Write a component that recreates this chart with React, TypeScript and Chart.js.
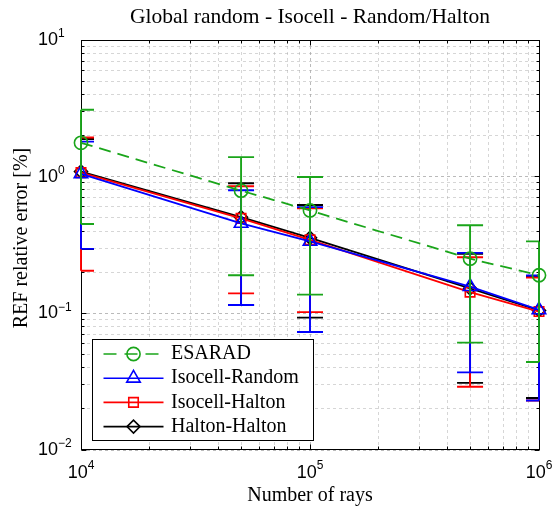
import React, { useEffect, useRef } from 'react';
import { Chart, registerables } from 'chart.js';

Chart.register(...registerables);

// ---------- data ----------
const TITLE = 'Global random - Isocell - Random/Halton';
const X_TITLE = 'Number of rays';
const Y_TITLE = 'REF relative error [%]';
const SERIES_NAMES = ['ESARAD', 'Isocell-Random', 'Isocell-Halton', 'Halton-Halton'];

const RAYS = [1e4, 5e4, 1e5, 5e5, 1e6];

const ESARAD = [1.77, 0.79, 0.566, 0.251, 0.19];
const ESARAD_ERR = [1.32, 0.6, 0.429, 0.19, 0.146];

const ISOCELL_RANDOM = [1.05, 0.455, 0.336, 0.157, 0.106];
const ISOCELL_RANDOM_ERR = [0.754, 0.34, 0.263, 0.12, 0.083];

const ISOCELL_HALTON = [1.07, 0.495, 0.345, 0.143, 0.103];
const ISOCELL_HALTON_ERR = [0.865, 0.355, 0.243, 0.114, 0.08];

const HALTON_HALTON = [1.09, 0.505, 0.357, 0.152, 0.105];
const HALTON_HALTON_ERR = [0.795, 0.39, 0.264, 0.121, 0.081];

const X_EXPONENTS = [4, 5, 6];
const Y_EXPONENTS = [-2, -1, 0, 1];

// ---------- styles ----------
const GREEN = '#1aa51a';
const SERIF = '"Liberation Serif", "Times New Roman", serif';
const SANS = '"Liberation Sans", Arial, sans-serif';

type Marker = 'circle' | 'triangle' | 'rect' | 'rectRot';
interface SeriesStyle {
  name: string;
  values: number[];
  errors: number[];
  color: string;
  dash: number[];
  marker: Marker;
  radius: number;
}

const SERIES: SeriesStyle[] = [
  { name: SERIES_NAMES[0], values: ESARAD, errors: ESARAD_ERR, color: GREEN, dash: [12, 7], marker: 'circle', radius: 6.6 },
  { name: SERIES_NAMES[1], values: ISOCELL_RANDOM, errors: ISOCELL_RANDOM_ERR, color: '#0000ff', dash: [], marker: 'triangle', radius: 7.8 },
  { name: SERIES_NAMES[2], values: ISOCELL_HALTON, errors: ISOCELL_HALTON_ERR, color: '#ff0000', dash: [], marker: 'rect', radius: 6.7 },
  { name: SERIES_NAMES[3], values: HALTON_HALTON, errors: HALTON_HALTON_ERR, color: '#000000', dash: [], marker: 'rectRot', radius: 6.5 },
];

const decadeTicks = (exps: number[]) => {
  const out: number[] = [];
  for (let i = 0; i < exps.length - 1; i++) {
    for (let m = 1; m <= 9; m++) out.push(m * Math.pow(10, exps[i]));
  }
  out.push(Math.pow(10, exps[exps.length - 1]));
  return out;
};

const isPow10 = (v: number) => {
  const l = Math.log10(v);
  return Math.abs(l - Math.round(l)) < 1e-9;
};

const drawMarker = (ctx: CanvasRenderingContext2D, m: Marker, x: number, y: number, r: number) => {
  ctx.beginPath();
  if (m === 'circle') {
    ctx.arc(x, y, r, 0, Math.PI * 2);
  } else if (m === 'triangle') {
    for (let k = 0; k < 3; k++) {
      const a = (k * 2 * Math.PI) / 3;
      const px = x + Math.sin(a) * r;
      const py = y - Math.cos(a) * r;
      if (k === 0) ctx.moveTo(px, py);
      else ctx.lineTo(px, py);
    }
    ctx.closePath();
  } else if (m === 'rect') {
    const s = r * Math.SQRT1_2;
    ctx.rect(x - s, y - s, 2 * s, 2 * s);
  } else {
    ctx.moveTo(x - r, y);
    ctx.lineTo(x, y - r);
    ctx.lineTo(x + r, y);
    ctx.lineTo(x, y + r);
    ctx.closePath();
  }
  ctx.stroke();
};

const CAP_HALF = 13;
const MAJOR_TICK = 5;
const MINOR_TICK = 3;

const matlabPlugin = {
  id: 'matlabStyle',
  beforeDatasetsDraw(chart: any) {
    const { ctx, chartArea } = chart;
    const xs = chart.scales.x;
    const ys = chart.scales.y;
    const L = chartArea.left + 0.5;
    const R = chartArea.right + 0.5;
    const T = chartArea.top + 0.5;
    const B = chartArea.bottom - 0.5;
    ctx.save();
    ctx.strokeStyle = '#000';
    ctx.lineWidth = 1;
    ctx.setLineDash([]);
    // inner ticks
    ctx.beginPath();
    xs.ticks.forEach((t: any) => {
      const px = Math.round(xs.getPixelForValue(t.value) - 0.5) + 0.5;
      const len = isPow10(t.value) ? MAJOR_TICK : MINOR_TICK;
      ctx.moveTo(px, B);
      ctx.lineTo(px, B - len);
      ctx.moveTo(px, T);
      ctx.lineTo(px, T + len);
    });
    ys.ticks.forEach((t: any) => {
      const py = Math.round(ys.getPixelForValue(t.value) - 0.5) + 0.5;
      const len = isPow10(t.value) ? MAJOR_TICK : MINOR_TICK;
      ctx.moveTo(L, py);
      ctx.lineTo(L + len, py);
      ctx.moveTo(R, py);
      ctx.lineTo(R - len, py);
    });
    ctx.stroke();
    // frame
    ctx.strokeRect(L, T, R - L, B - T);

    // tick labels
    ctx.fillStyle = '#000';
    ctx.textBaseline = 'middle';
    const baseFont = `18px ${SANS}`;
    const supFont = `12px ${SANS}`;
    X_EXPONENTS.forEach((e) => {
      const px = xs.getPixelForValue(Math.pow(10, e));
      const sup = String(e).replace('-', '\u2212');
      ctx.font = baseFont;
      const wb = ctx.measureText('10').width;
      ctx.font = supFont;
      const ws = ctx.measureText(sup).width;
      const x0 = px - (wb + ws) / 2;
      const y0 = chartArea.bottom + 23;
      ctx.textAlign = 'left';
      ctx.font = baseFont;
      ctx.fillText('10', x0, y0);
      ctx.font = supFont;
      ctx.fillText(sup, x0 + wb, y0 - 7);
    });
    Y_EXPONENTS.forEach((e) => {
      const py = ys.getPixelForValue(Math.pow(10, e));
      const sup = String(e).replace('-', '\u2212');
      const x0 = 38;
      ctx.textAlign = 'left';
      ctx.font = baseFont;
      const wb = ctx.measureText('10').width;
      ctx.fillText('10', x0, py);
      ctx.font = supFont;
      ctx.fillText(sup, x0 + wb, py - 6);
    });

    // y axis title
    ctx.save();
    ctx.translate(21.4, (chartArea.top + chartArea.bottom) / 2 - 7);
    ctx.rotate(-Math.PI / 2);
    ctx.font = `20px ${SERIF}`;
    ctx.textAlign = 'center';
    ctx.textBaseline = 'middle';
    ctx.fillText(Y_TITLE, 0, 0);
    ctx.restore();

    ctx.restore();
  },
  beforeDatasetDraw(chart: any, args: any) {
    const s = SERIES[args.index];
    if (!s) return;
    const { ctx, chartArea } = chart;
    const xs = chart.scales.x;
    const ys = chart.scales.y;
    ctx.save();
    ctx.strokeStyle = s.color;
    ctx.lineWidth = 1.9;
    ctx.setLineDash([]);
    ctx.lineCap = 'butt';
    ctx.beginPath();
    RAYS.forEach((x, j) => {
      const v = s.values[j];
      const e = s.errors[j];
      const px = xs.getPixelForValue(x);
      const yt = ys.getPixelForValue(v + e);
      const yb = ys.getPixelForValue(v - e);
      ctx.moveTo(px, yt);
      ctx.lineTo(px, yb);
      const cl = Math.max(chartArea.left, px - CAP_HALF);
      const cr = Math.min(chartArea.right, px + CAP_HALF);
      ctx.moveTo(cl, yt);
      ctx.lineTo(cr, yt);
      ctx.moveTo(cl, yb);
      ctx.lineTo(cr, yb);
    });
    ctx.stroke();
    ctx.restore();
  },
  afterDatasetsDraw(chart: any) {
    const { ctx, chartArea } = chart;
    const bx = chartArea.left + 11.5;
    const by = chartArea.bottom - 110.5;
    const bw = 221;
    const bh = 101;
    ctx.save();
    ctx.setLineDash([]);
    ctx.fillStyle = '#fff';
    ctx.fillRect(bx, by, bw, bh);
    ctx.strokeStyle = '#000';
    ctx.lineWidth = 1;
    ctx.strokeRect(bx, by, bw, bh);
    SERIES.forEach((s, i) => {
      const ry = by + 14.5 + i * 24.2;
      const x1 = bx + 11;
      const x2 = bx + 71;
      const xm = (x1 + x2) / 2;
      ctx.strokeStyle = s.color;
      ctx.lineWidth = 1.6;
      ctx.setLineDash(s.dash.length ? [13, 8] : []);
      ctx.beginPath();
      ctx.moveTo(x1, ry);
      ctx.lineTo(x2, ry);
      ctx.stroke();
      ctx.setLineDash([]);
      ctx.lineWidth = 1.6;
      drawMarker(ctx, s.marker, xm, ry, s.radius);
      ctx.fillStyle = '#000';
      ctx.font = `20px ${SERIF}`;
      ctx.textAlign = 'left';
      ctx.textBaseline = 'middle';
      ctx.fillText(s.name, bx + 78.5, ry);
    });
    ctx.restore();
  },
};

export default function App() {
  const ref = useRef<HTMLCanvasElement | null>(null);

  useEffect(() => {
    if (!ref.current) return;
    const gridColor = (c: any) =>
      c.tick && isPow10(c.tick.value) ? 'rgba(140,140,140,0.6)' : 'rgba(165,165,165,0.45)';
    const chart = new Chart(ref.current, {
      type: 'line',
      data: {
        datasets: SERIES.map((s, i) => ({
          label: s.name,
          data: RAYS.map((x, j) => ({ x, y: s.values[j] })),
          borderColor: s.color,
          backgroundColor: s.color,
          borderWidth: 1.8,
          borderDash: s.dash,
          pointStyle: s.marker,
          pointRadius: s.radius,
          pointBorderWidth: 1.6,
          pointBorderColor: s.color,
          pointBackgroundColor: 'rgba(0,0,0,0)',
          tension: 0,
          clip: false as any,
          order: i,
        })),
      },
      options: {
        responsive: false,
        animation: false,
        devicePixelRatio: 1,
        events: [],
        layout: { padding: { left: 0, right: 14, top: 0, bottom: 0 } },
        plugins: {
          legend: { display: false },
          tooltip: { enabled: false },
          title: {
            display: true,
            fullSize: false,
            text: TITLE,
            color: '#000',
            font: { family: SERIF, size: 21.5, weight: 'normal', lineHeight: 1.2 },
            padding: { top: 4, bottom: 10.2 },
          },
        },
        scales: {
          x: {
            type: 'logarithmic',
            min: Math.pow(10, X_EXPONENTS[0]),
            max: Math.pow(10, X_EXPONENTS[X_EXPONENTS.length - 1]),
            afterBuildTicks: (scale: any) => {
              scale.ticks = decadeTicks(X_EXPONENTS).map((value) => ({ value, major: isPow10(value) }));
            },
            afterFit: (scale: any) => {
              scale.height = 56;
            },
            ticks: { display: false },
            grid: { color: gridColor, drawTicks: false, lineWidth: 1 },
            border: { display: false, dash: [3, 3] },
            title: {
              display: true,
              text: X_TITLE,
              color: '#000',
              font: { family: SERIF, size: 20, lineHeight: 1 },
              padding: { top: 0, bottom: 0 },
            },
          },
          y: {
            type: 'logarithmic',
            min: Math.pow(10, Y_EXPONENTS[0]),
            max: Math.pow(10, Y_EXPONENTS[Y_EXPONENTS.length - 1]),
            afterBuildTicks: (scale: any) => {
              scale.ticks = decadeTicks(Y_EXPONENTS).map((value) => ({ value, major: isPow10(value) }));
            },
            afterFit: (scale: any) => {
              scale.width = 81;
            },
            ticks: { display: false },
            grid: { color: gridColor, drawTicks: false, lineWidth: 1 },
            border: { display: false, dash: [3, 3] },
            title: { display: false },
          },
        },
      } as any,
      plugins: [matlabPlugin as any],
    });
    return () => chart.destroy();
  }, []);

  return (
    <div style={{ position: 'absolute', left: 0, top: 0, width: 553, height: 506, background: '#fff' }}>
      <canvas ref={ref} width={553} height={506} style={{ display: 'block', width: 553, height: 506 }} />
    </div>
  );
}
